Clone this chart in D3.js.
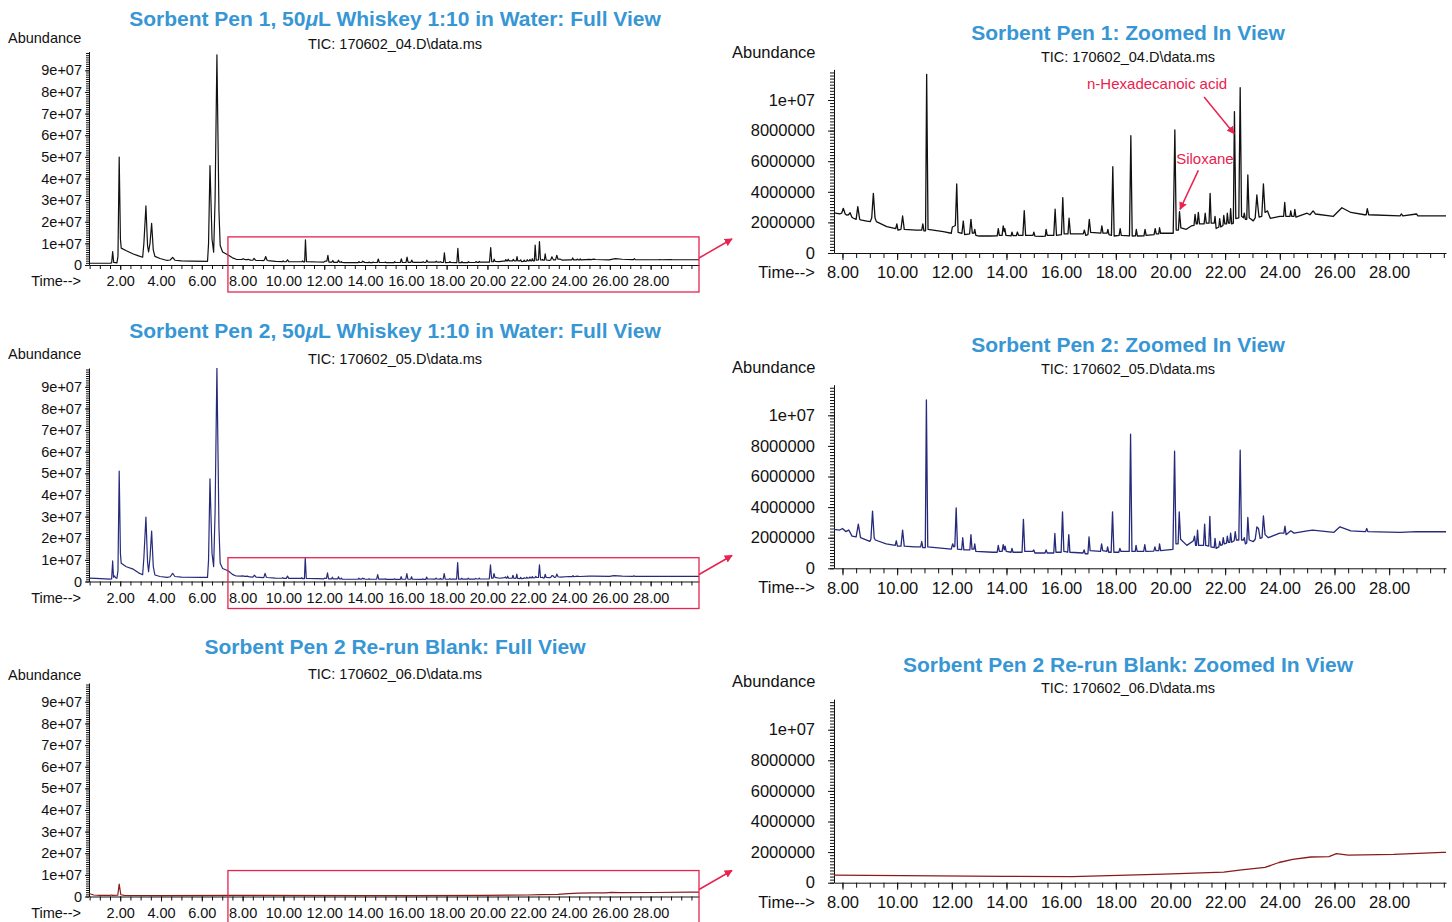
<!DOCTYPE html>
<html lang="en">
<head>
<meta charset="UTF-8">
<title>Sorbent Pen chromatograms</title>
<script src="https://d3js.org/d3.v7.min.js"></script>
<style>
    body { margin: 0; background: #fff; }
    svg { font-family: "Liberation Sans", Arial, Helvetica, sans-serif; }
    .title { font-weight: bold; fill: #3796d4; font-size: 21px; text-anchor: middle; }
    .sub { font-size: 14.5px; text-anchor: middle; fill: #111; }
    .lbl { fill: #111; }
    .axis text { fill: #111; }
    .axis path, .axis line { stroke: #111; }
    .note { fill: #e8234f; font-size: 15px; }
</style>
</head>
<body>
<svg id="chart" width="1452" height="922"></svg>
<script>
// ---- data: retention time (min), abundance (millions) ----
const pen1Trace = [
    [0.47,0.8],[1.50,0.8],[1.58,1.0],[1.63,6.2],[1.68,1.2],[1.84,1.0],[1.89,4],[1.95,49.9],[2.01,12],[2.05,7.8],
    [2.3,6.6],[2.64,5.1],[2.9,4.2],[3.1,3.6],[3.16,10],[3.26,27.3],[3.34,9],[3.39,6],[3.46,10],[3.54,19.3],
    [3.62,7],[3.7,4.0],[3.95,3.0],[4.3,2.1],[4.45,2.3],[4.57,3.5],[4.68,2.2],[5.0,1.9],[5.5,1.8],[6.28,1.7],
    [6.33,10],[6.40,46],[6.5,12],[6.58,5.9],[6.65,30],[6.74,97.2],[6.84,25],[6.9,9],[7.02,6],[7.29,4.6],[7.5,3.3],
    [7.69,2.63],[7.9,2.55],[7.97,2.6],[8.03,2.92],[8.1,2.55],[8.15,2.48],[8.22,2.5],[8.28,2.63],[8.34,2.35],[8.4,2.27],
    [8.5,2.2],[8.56,3.03],[8.63,2.2],[8.66,2.16],[8.89,2.09],[9.02,2.05],[9.07,2.3],[9.13,3.9],[9.19,2.3],[9.24,2.05],
    [9.62,1.72],[9.95,1.6],[9.99,1.9],[10.03,1.5],[10.14,1.55],[10.2,2.42],[10.26,1.54],[10.7,1.5],[10.9,1.5],[10.94,1.9],
    [10.98,1.45],[11.04,1.45],[11.08,11.68],[11.13,1.55],[11.69,1.39],[11.98,1.29],[12.02,1.7],[12.08,1.75],[12.13,1.8],
    [12.18,4.51],[12.23,1.35],[12.37,1.29],[12.42,2.09],[12.47,1.2],[12.65,1.25],[12.7,2.2],[12.75,1.3],[12.81,1.3],
    [12.84,1.55],[12.88,1.15],[13.0,1.11],[13.4,1.11],[13.66,1.12],[13.7,1.59],[13.74,1.15],[13.84,1.15],[13.88,1.77],
    [13.92,1.4],[13.94,1.59],[13.98,1.15],[14.17,1.12],[14.2,1.37],[14.24,1.13],[14.36,1.13],[14.4,1.37],[14.44,1.15],
    [14.6,1.15],[14.65,2.77],[14.7,1.15],[14.97,1.15],[15.0,1.37],[15.04,1.1],[15.3,1.09],[15.42,1.1],[15.45,1.55],
    [15.49,1.15],[15.73,1.15],[15.78,2.86],[15.83,1.15],[16.01,1.2],[16.06,3.62],[16.11,1.25],[16.25,1.25],[16.29,2.27],
    [16.34,1.25],[16.81,1.25],[16.85,1.5],[16.9,1.15],[16.98,1.2],[17.03,2.2],[17.08,1.35],[17.45,1.3],[17.49,1.77],
    [17.53,1.3],[17.68,1.3],[17.71,1.55],[17.75,1.2],[17.84,1.15],[17.89,5.64],[17.94,1.11],[18.12,1.15],[18.16,1.59],
    [18.2,1.15],[18.5,1.12],[18.55,7.67],[18.6,1.11],[18.72,1.12],[18.75,1.55],[18.79,1.11],[19.03,1.12],[19.07,1.55],
    [19.11,1.15],[19.4,1.2],[19.44,1.59],[19.48,1.25],[19.57,1.25],[19.6,1.65],[19.64,1.29],[20.1,1.29],[20.16,8.04],
    [20.21,1.5],[20.29,1.5],[20.33,2.7],[20.38,1.64],[20.58,1.55],[20.76,1.77],[20.86,1.8],[20.9,2.53],[20.94,1.9],
    [20.98,1.9],[21.02,2.66],[21.06,1.9],[21.23,1.9],[21.27,2.6],[21.31,1.95],[21.41,1.95],[21.45,3.9],[21.49,1.95],
    [21.6,1.95],[21.63,2.4],[21.67,1.6],[21.77,1.7],[21.8,2.25],[21.84,1.7],[21.92,1.8],[21.95,2.45],[21.99,1.9],
    [22.05,1.9],[22.08,2.6],[22.12,1.95],[22.17,1.95],[22.2,2.9],[22.24,1.9],[22.3,1.95],[22.34,9.24],[22.39,2.25],
    [22.5,2.3],[22.55,10.8],[22.6,2.4],[22.67,2.3],[22.7,2.6],[22.74,2.2],[22.79,2.2],[22.83,5.1],[22.88,2.3],
    [23.03,2.1],[23.1,2.3],[23.16,3.79],[23.2,3.0],[23.24,2.35],[23.34,2.4],[23.4,4.51],[23.46,2.65],[23.55,2.75],
    [23.65,2.27],[24.0,2.4],[24.14,2.4],[24.18,3.3],[24.22,2.4],[24.37,2.4],[24.4,2.75],[24.44,2.4],[24.52,2.4],
    [24.55,2.85],[24.59,2.35],[25.0,2.6],[25.1,2.5],[25.22,2.75],[25.3,2.55],[25.96,2.4],[26.27,2.96],[26.6,2.65],
    [27.1,2.5],[27.16,2.5],[27.2,2.9],[27.25,2.5],[28.4,2.42],[28.45,2.55],[28.5,2.42],[29.0,2.55],[29.05,2.42],
    [30.08,2.42],[30.4,2.42]
];

const pen2Trace = [
    [0.47,1.6],[0.8,1.4],[1.5,1.1],[1.58,1.2],[1.63,9.5],[1.67,2.0],[1.72,2.6],[1.76,1.8],[1.84,1.5],[1.89,5],
    [1.95,51],[2.01,13],[2.05,8.4],[2.3,6.8],[2.64,5.7],[2.9,4.0],[3.1,3.1],[3.16,11],[3.26,29.8],[3.34,9],
    [3.39,4.5],[3.46,11],[3.54,23.3],[3.62,7],[3.7,3.0],[3.95,2.3],[4.3,1.9],[4.45,2.2],[4.57,3.8],[4.68,2.3],
    [5.0,2.0],[6.0,1.9],[6.28,1.9],[6.33,10],[6.40,47.5],[6.5,13],[6.58,6.9],[6.65,32],[6.74,98.7],[6.84,25],
    [6.9,8.4],[7.02,6.0],[7.29,5.0],[7.5,3.3],
    [7.68,2.54],[7.9,2.5],[8.0,2.6],[8.12,2.4],[8.23,2.5],[8.35,2.1],[8.5,2.05],[8.58,2.89],[8.66,2.0],[9.0,1.76],
    [9.04,1.9],[9.1,3.74],[9.16,2.0],[9.2,1.85],[9.6,1.6],[9.93,1.5],[9.97,1.8],[10.01,1.45],[10.14,1.45],[10.2,2.5],
    [10.26,1.45],[10.63,1.4],[10.86,1.4],[10.9,1.75],[10.94,1.35],[11.03,1.35],[11.07,11.0],[11.12,1.4],[11.69,1.3],
    [11.98,1.25],[12.03,1.6],[12.07,1.4],[12.11,1.45],[12.16,3.95],[12.21,1.25],[12.36,1.22],[12.4,2.0],[12.44,1.2],
    [12.66,1.2],[12.7,2.2],[12.74,1.25],[12.81,1.25],[12.84,1.6],[12.88,1.1],[13.5,1.05],[13.66,1.05],[13.7,1.5],
    [13.74,1.1],[13.84,1.1],[13.88,1.55],[13.92,1.2],[13.95,1.45],[13.99,1.1],[14.17,1.05],[14.2,1.3],[14.24,1.05],
    [14.57,1.05],[14.62,3.2],[14.67,1.1],[14.96,1.1],[15.0,1.2],[15.04,1.0],[15.41,1.0],[15.45,1.2],[15.49,1.0],
    [15.73,1.0],[15.77,2.28],[15.81,1.05],[16.0,1.05],[16.05,3.69],[16.1,1.1],[16.24,1.05],[16.28,2.2],[16.32,1.05],
    [16.8,1.0],[16.84,1.2],[16.88,0.95],[16.98,0.95],[17.02,2.06],[17.06,1.15],[17.44,1.1],[17.48,1.6],[17.52,1.15],
    [17.67,1.1],[17.7,1.4],[17.74,1.05],[17.83,1.05],[17.88,3.69],[17.93,1.05],[18.11,1.05],[18.15,1.3],[18.19,1.1],
    [18.49,1.1],[18.54,8.76],[18.59,1.1],[18.71,1.1],[18.74,1.5],[18.78,1.1],[19.02,1.1],[19.06,1.55],[19.1,1.1],
    [19.39,1.12],[19.43,1.4],[19.47,1.15],[19.57,1.15],[19.6,1.6],[19.64,1.15],[20.09,1.24],[20.15,7.65],[20.2,1.6],
    [20.28,1.6],[20.32,3.69],[20.37,1.9],[20.6,1.5],[20.84,1.8],[20.88,2.1],[20.92,1.5],[20.95,1.5],[20.99,2.5],
    [21.03,1.5],[21.21,1.5],[21.25,2.89],[21.29,1.5],[21.4,1.45],[21.44,3.4],[21.48,1.4],[21.6,1.35],[21.63,1.96],
    [21.67,1.3],[21.77,1.4],[21.8,1.75],[21.84,1.5],[21.9,1.55],[21.93,2.0],[21.97,1.6],[22.05,1.65],[22.08,2.1],
    [22.12,1.7],[22.17,1.7],[22.2,2.3],[22.24,1.7],[22.33,1.8],[22.37,2.4],[22.41,1.85],[22.5,1.85],[22.55,7.72],
    [22.6,1.85],[22.67,1.85],[22.7,2.0],[22.74,1.6],[22.79,1.65],[22.83,3.33],[22.88,1.85],[23.03,1.75],[23.1,1.9],
    [23.16,2.7],[23.22,2.6],[23.28,1.95],[23.35,2.0],[23.4,3.43],[23.46,2.2],[23.58,2.0],[24.0,2.3],[24.15,2.3],
    [24.19,2.75],[24.23,2.2],[24.4,2.45],[24.52,2.3],[25.0,2.45],[25.2,2.5],[25.98,2.35],[26.2,2.71],[26.6,2.45],
    [27.1,2.4],[27.14,2.4],[27.18,2.6],[27.22,2.4],[28.4,2.35],[29.0,2.4],[30.08,2.39],[30.4,2.39]
];

const blankTrace = [
    [0.47,1.4],[0.7,0.7],[1.0,0.5],[1.5,0.5],[1.58,0.7],[1.62,0.5],[1.88,0.6],[1.95,5.7],[2.03,0.8],[2.2,0.5],
    [4.0,0.45],[7.63,0.5],[13.9,0.41],[16.4,0.4],[19.76,0.56],[21.95,0.69],[22.6,0.84],[23.46,1.0],[23.97,1.32],
    [24.47,1.53],[25.14,1.68],[25.8,1.7],[26.07,1.9],[26.5,1.8],[28.17,1.85],[29.95,1.98],[30.4,2.0]
];

const sampleNames = ["Sorbent Pen 1", "Sorbent Pen 2", "Sorbent Pen 2 Re-run Blank"];
const fileNames = ["TIC: 170602_04.D\\data.ms", "TIC: 170602_05.D\\data.ms", "TIC: 170602_06.D\\data.ms"];
const traceColors = ["#111111", "#262a7a", "#8a1b1b"];

const fullTickValues = [0, 1e7, 2e7, 3e7, 4e7, 5e7, 6e7, 7e7, 8e7, 9e7];
const fullTickLabels = ["0", "1e+07", "2e+07", "3e+07", "4e+07", "5e+07", "6e+07", "7e+07", "8e+07", "9e+07"];
const zoomTickValues = [0, 2e6, 4e6, 6e6, 8e6, 1e7];
const zoomTickLabels = ["0", "2000000", "4000000", "6000000", "8000000", "1e+07"];
const fullTimeTicks = [2, 4, 6, 8, 10, 12, 14, 16, 18, 20, 22, 24, 26, 28];
const zoomTimeTicks = [8, 10, 12, 14, 16, 18, 20, 22, 24, 26, 28];

// zoom box in the full views (start time, top abundance)
const boxStart = 7.28;
const boxTops = [1.3e7, 1.1e7, 1.2e7];

// annotations on Pen 1 zoomed view (time, abundance in millions)
const notes = [
    { text: "n-Hexadecanoic acid", tx: 19.51, ty: 10.75, from: [21.23, 10.2], to: [22.33, 7.8] },
    { text: "Siloxane",            tx: 21.26, ty: 5.8,   from: [21.02, 5.4],  to: [20.35, 2.85] }
];

const traces = [pen1Trace, pen2Trace, blankTrace];

const svg = d3.select("#chart");
const RED = "#e8234f";

svg.append("defs").append("marker")
    .attr("id", "arrow")
    .attr("viewBox", "0 0 10 10")
    .attr("refX", 9).attr("refY", 5)
    .attr("markerWidth", 8).attr("markerHeight", 8)
    .attr("markerUnits", "userSpaceOnUse")
    .attr("orient", "auto")
    .append("path")
    .attr("d", "M0,0 L10,5 L0,10 z")
    .attr("fill", RED);

const fmtTime = d => d.toFixed(2);

function drawPanel(o) {
    const x = d3.scaleLinear().domain(o.xDomain).range(o.xRange);
    const y = d3.scaleLinear().domain(o.yDomain).range([o.zero, o.zero - o.h]);
    const g = svg.append("g");

    svg.select("defs").append("clipPath").attr("id", o.id)
        .append("rect")
        .attr("x", o.xRange[0]).attr("y", o.zero - o.h)
        .attr("width", o.xRange[1] - o.xRange[0]).attr("height", o.h + 1);

    // y minor ticks
    g.append("g").attr("class", "axis")
        .attr("transform", `translate(${o.xRange[0]},0)`)
        .call(d3.axisLeft(y).tickValues(d3.range(0, o.yDomain[1], o.yMinor)).tickSize(o.minorLen).tickFormat(""))
        .call(s => s.select(".domain").remove());
    // y major
    g.append("g").attr("class", "axis")
        .attr("transform", `translate(${o.xRange[0]},0)`)
        .call(d3.axisLeft(y).tickValues(o.yTicks).tickFormat((d, i) => o.yLabels[i])
            .tickSize(o.majorLen).tickPadding(o.yPad).tickSizeOuter(0))
        .call(s => s.selectAll("text").style("font-size", o.fs + "px"));

    // x minor ticks
    g.append("g").attr("class", "axis")
        .attr("transform", `translate(0,${o.zero})`)
        .call(d3.axisBottom(x).tickValues(d3.range(Math.ceil(o.xDomain[0] * 2) / 2, o.xDomain[1], 0.5))
            .tickSize(o.minorLen + 1).tickFormat(""))
        .call(s => s.select(".domain").remove());
    // x major
    g.append("g").attr("class", "axis")
        .attr("transform", `translate(0,${o.zero})`)
        .call(d3.axisBottom(x).tickValues(o.xTicks).tickFormat(fmtTime)
            .tickSize(o.majorLen + 1).tickPadding(o.xPad).tickSizeOuter(0))
        .call(s => s.selectAll("text").style("font-size", o.fs + "px"));

    g.append("path")
        .datum(o.data)
        .attr("clip-path", `url(#${o.id})`)
        .attr("fill", "none")
        .attr("stroke", o.color)
        .attr("stroke-width", o.lw)
        .attr("stroke-linejoin", "round")
        .attr("d", d3.line().x(d => x(d[0])).y(d => y(d[1] * 1e6)));

    g.append("text").attr("class", "lbl")
        .attr("x", o.abX).attr("y", o.abY)
        .style("font-size", o.fs + "px").text("Abundance");
    g.append("text").attr("class", "lbl")
        .attr("x", o.xRange[0] - o.timeGap).attr("y", o.zero + o.timeDy)
        .attr("text-anchor", "end")
        .style("font-size", o.fs + "px").text("Time-->");

    return { x, y, g };
}

// ---- layout of the six panels ----
const leftZero = [265, 581.5, 896.5];
const rightZero = [253, 568.3, 882.7];
const leftTitleY = [26, 338, 654];
const leftSubY = [49, 364, 679];
const leftAbY = [43, 359, 680];
const rightTitleY = [40, 352, 672];
const rightSubY = [62, 374, 693];
const rightAbY = [58, 373, 687];

traces.forEach((data, i) => {
    // full view (left column)
    const full = drawPanel({
        id: "clipL" + i, data, color: traceColors[i], lw: 1.2,
        xDomain: [0.47, 30.37], xRange: [89, 699],
        yDomain: [0, 9.87e7], zero: leftZero[i], h: 213.5,
        yTicks: fullTickValues, yLabels: fullTickLabels, yMinor: 1e6,
        xTicks: fullTimeTicks, minorLen: 3, majorLen: 4,
        yPad: 3, xPad: 6, fs: 14.5,
        abX: 8, abY: leftAbY[i], timeGap: 8, timeDy: 21
    });

    const title = svg.append("text").attr("class", "title").attr("x", 395).attr("y", leftTitleY[i]);
    if (i < 2) {
        title.append("tspan").text(`${sampleNames[i]}, 50`);
        title.append("tspan").style("font-style", "italic").text("\u03bc");
        title.append("tspan").text("L Whiskey 1:10 in Water: Full View");
    } else {
        title.text(`${sampleNames[i]}: Full View`);
    }
    svg.append("text").attr("class", "sub").attr("x", 395).attr("y", leftSubY[i]).text(fileNames[i]);

    // zoom box + arrow
    const bx = full.x(boxStart), by = full.y(boxTops[i]);
    const bRight = full.x.range()[1];
    svg.append("rect")
        .attr("x", bx).attr("y", by)
        .attr("width", bRight - bx).attr("height", leftZero[i] + 27 - by)
        .attr("fill", "none").attr("stroke", RED).attr("stroke-width", 1.3);
    svg.append("line")
        .attr("x1", bRight).attr("y1", leftZero[i] - 7)
        .attr("x2", bRight + 33).attr("y2", leftZero[i] - 26)
        .attr("stroke", RED).attr("stroke-width", 1.5)
        .attr("marker-end", "url(#arrow)");

    // zoomed view (right column)
    const zoom = drawPanel({
        id: "clipR" + i, data, color: traceColors[i], lw: 1.3,
        xDomain: [7.69, 30.08], xRange: [834, 1446],
        yDomain: [0, 1.2e7], zero: rightZero[i], h: 183.6,
        yTicks: zoomTickValues, yLabels: zoomTickLabels, yMinor: 2e5,
        xTicks: zoomTimeTicks, minorLen: 4, majorLen: 6,
        yPad: 13, xPad: 6.5, fs: 16.5,
        abX: 732, abY: rightAbY[i], timeGap: 19, timeDy: 25
    });

    svg.append("text").attr("class", "title").attr("x", 1128).attr("y", rightTitleY[i])
        .text(`${sampleNames[i]}: Zoomed In View`);
    svg.append("text").attr("class", "sub").attr("x", 1128).attr("y", rightSubY[i]).text(fileNames[i]);

    if (i === 0) {
        notes.forEach(n => {
            svg.append("text").attr("class", "note")
                .attr("x", zoom.x(n.tx)).attr("y", zoom.y(n.ty * 1e6))
                .attr("text-anchor", "middle")
                .text(n.text);
            svg.append("line")
                .attr("x1", zoom.x(n.from[0])).attr("y1", zoom.y(n.from[1] * 1e6))
                .attr("x2", zoom.x(n.to[0])).attr("y2", zoom.y(n.to[1] * 1e6))
                .attr("stroke", RED).attr("stroke-width", 1.5)
                .attr("marker-end", "url(#arrow)");
        });
    }
});
</script>
</body>
</html>
